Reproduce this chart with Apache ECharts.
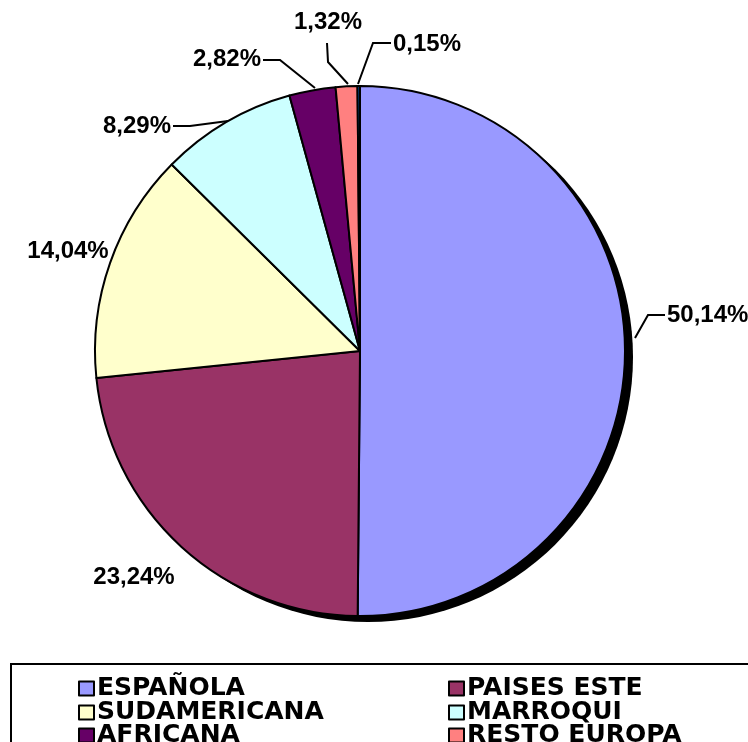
<!DOCTYPE html>
<html>
<head>
<meta charset="utf-8">
<script src="https://cdn.jsdelivr.net/npm/echarts@6/dist/echarts.min.js"></script>
<style>html,body{margin:0;padding:0;background:#fff}#c{width:748px;height:742px}</style>
</head>
<body>
<div id="c"></div>
<script>
const categories = ['ESPAÑOLA', 'PAISES ESTE', 'SUDAMERICANA', 'MARROQUI', 'AFRICANA', 'RESTO EUROPA', 'OTROS'];
const values = [50.14, 23.24, 14.04, 8.29, 2.82, 1.32, 0.15];
const colors = ['#9999FF', '#993366', '#FFFFCC', '#CCFFFF', '#660066', '#FF8080', '#0066CC'];
const legendItems = ['ESPAÑOLA', 'PAISES ESTE', 'SUDAMERICANA', 'MARROQUI', 'AFRICANA', 'RESTO EUROPA'];

// label placement (layout only)
const labelPlace = [
  {x: 667, y: 315, align: 'left', line: [[635, 338], [648, 315], [665, 315]]},
  {x: 134, y: 577, align: 'center', line: null},
  {x: 68, y: 251, align: 'center', line: null},
  {x: 171, y: 126, align: 'right', line: [[228, 121], [190, 126], [173, 126]]},
  {x: 261, y: 59, align: 'right', line: [[315, 88], [280, 60], [263, 60]]},
  {x: 328, y: 22, align: 'center', line: [[348, 84], [328, 62], [327, 43]]},
  {x: 393, y: 44, align: 'left', line: [[358, 84], [373, 43], [391, 43]]}
];
const legendColLeft = [78, 448];
const legendRowTop = [676, 700, 723];

const chart = echarts.init(document.getElementById('c'), null, {renderer: 'canvas'});
const fmt = v => v.toFixed(2).replace('.', ',') + '%';
const legends = legendItems.map((name, i) => ({
  left: legendColLeft[i % 2], top: legendRowTop[Math.floor(i / 2)], data: [name],
  orient: 'horizontal', icon: 'rect', itemWidth: 15, itemHeight: 14,
  padding: 0, selectedMode: false,
  itemStyle: {borderColor: '#000', borderWidth: 2},
  textStyle: {fontFamily: 'DejaVu Sans', fontWeight: 'bold', fontSize: 25, color: '#000', lineHeight: 14, padding: [0, 0, 0, -2]}
}));
chart.setOption({
  animation: false,
  backgroundColor: '#fff',
  color: colors,
  graphic: [{type: 'rect', shape: {x: 11, y: 664, width: 800, height: 200}, style: {fill: 'none', stroke: '#000', lineWidth: 2}, z: 0}],
  legend: legends,
  series: [
    {
      type: 'pie', name: 'shadow', silent: true, center: [368, 357], radius: 265,
      label: {show: false}, labelLine: {show: false}, legendHoverLink: false,
      data: [{value: 1, name: '__shadow', itemStyle: {color: '#000'}}], z: 1
    },
    {
      type: 'pie', center: [360, 351], radius: 265, startAngle: 90, clockwise: true,
      avoidLabelOverlap: false, z: 2,
      itemStyle: {borderColor: '#000', borderWidth: 2},
      label: {
        show: true, position: 'outside', color: '#000',
        fontFamily: 'Liberation Sans', fontWeight: 'bold', fontSize: 24,
        formatter: p => fmt(p.value)
      },
      labelLine: {show: true, lineStyle: {color: '#000', width: 2}},
      labelLayout: function (params) {
        const L = labelPlace[params.dataIndex];
        const o = {x: L.x, y: L.y, align: L.align, verticalAlign: 'middle'};
        if (L.line) o.labelLinePoints = L.line;
        return o;
      },
      data: categories.map((c, i) => ({
        name: c, value: values[i],
        labelLine: {show: !!labelPlace[i].line}
      }))
    }
  ]
});
</script>
</body>
</html>
